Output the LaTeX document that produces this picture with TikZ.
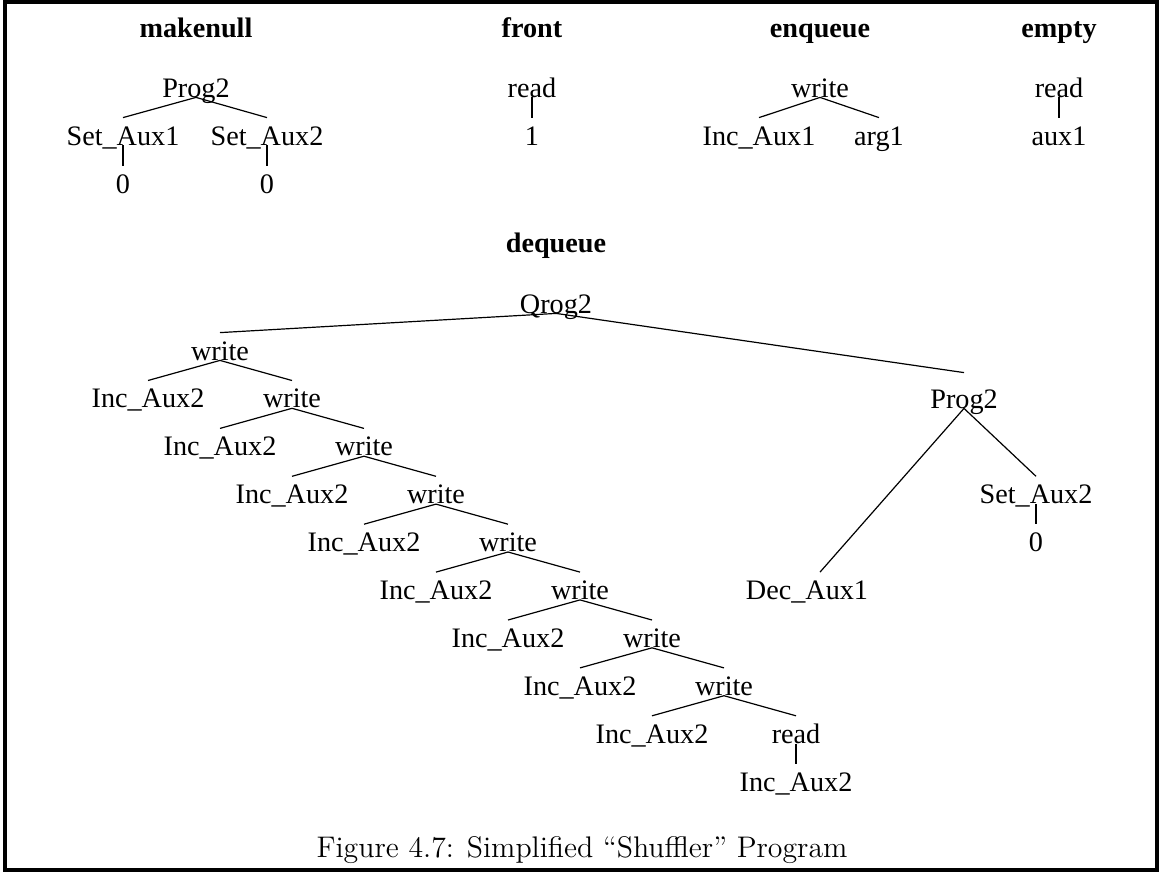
\documentclass[tikz,border=0pt]{standalone}
\usepackage{fontspec}
\newfontfamily\treefont{Liberation Serif}
\usetikzlibrary{positioning}

\begin{document}
\begin{tikzpicture}[x=0.5pt, y=-0.5pt,
        every node/.style={inner sep=0pt},
        op/.style={font=\treefont\fontsize{14.1}{17}\selectfont, anchor=base, text height=13.5pt, text depth=0pt},
        title/.style={font=\treefont\fontsize{14.1}{17}\selectfont\bfseries, anchor=base},
        link/.style={line width=0.6pt}
    ]
    \useasboundingbox (0,0) rectangle (1160,873);
    \draw[line width=1.6pt] (5,2) rectangle (1157,870);

    \node[title] (tmk) at (196,37) {makenull};
    \node[title] (tfr) at (532,37) {front};
    \node[title] (ten) at (820,37) {enqueue};
    \node[title] (tem) at (1059,37) {empty};
    \node[title] (tde) at (556,252) {dequeue};

    \node[op] (mp) at (196,97) {Prog2};
    \node[op] (ms1) at (123,145) {Set\_Aux1};
    \node[op] (ms2) at (267,145) {Set\_Aux2};
    \node[op] (mz1) at (123,193) {0};
    \node[op] (mz2) at (267,193) {0};
    \draw[link] (mp.south) -- (ms1.north);
    \draw[link] (mp.south) -- (ms2.north);
    \draw[link] (ms1.south) -- (mz1.north);
    \draw[link] (ms2.south) -- (mz2.north);

    \node[op] (fr) at (532,97) {read};
    \node[op] (fo) at (532,145) {1};
    \draw[link] (fr.south) -- (fo.north);

    \node[op] (ew) at (820,97) {write};
    \node[op] (ei) at (759,145) {Inc\_Aux1};
    \node[op] (ea) at (879,145) {arg1};
    \draw[link] (ew.south) -- (ei.north);
    \draw[link] (ew.south) -- (ea.north);

    \node[op] (er) at (1059,97) {read};
    \node[op] (ex) at (1059,145) {aux1};
    \draw[link] (er.south) -- (ex.north);

    \node[op] (q) at (556,313) {Qrog2};
    \foreach \i [evaluate=\i as \x using 220+72*(\i-1), evaluate=\i as \y using 360+47.9*(\i-1)] in {1,...,8} {
        \node[op] (w\i) at (\x,\y) {write};
        \node[op] (inc\i) at (\x-72,\y+47.9) {Inc\_Aux2};
        \draw[link] (w\i.south) -- (inc\i.north);
    }
    \foreach \i [evaluate=\i as \j using int(\i+1)] in {1,...,7} {
        \draw[link] (w\i.south) -- (w\j.north);
    }
    \node[op] (rd) at (796,743.2) {read};
    \node[op] (incl) at (796,791.1) {Inc\_Aux2};
    \draw[link] (w8.south) -- (rd.north);
    \draw[link] (rd.south) -- (incl.north);

    \node[op] (p2) at (964,408) {Prog2};
    \node[op] (dec) at (807,599.5) {Dec\_Aux1};
    \node[op] (s2) at (1036,503.7) {Set\_Aux2};
    \node[op] (z) at (1036,551.6) {0};
    \draw[link] (q.south) -- (w1.north);
    \draw[link] (q.south) -- ([yshift=4pt]p2.north);
    \draw[link] (p2.south) -- ([xshift=6.5pt]dec.north);
    \draw[link] (p2.south) -- (s2.north);
    \draw[link] (s2.south) -- (z.north);

    \node[font=\fontsize{14.9}{18}\selectfont, anchor=base] (cap) at (582,857) {Figure 4.7: Simplified ``Shuffler'' Program};
\end{tikzpicture}
\end{document}
